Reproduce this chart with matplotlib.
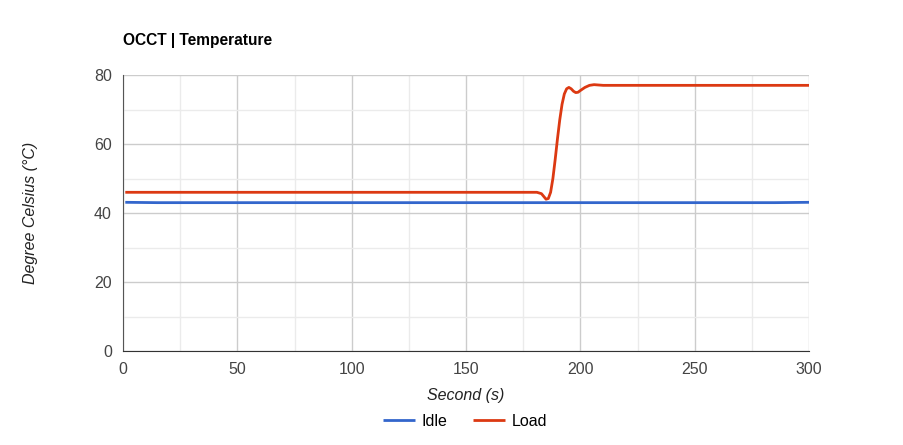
import matplotlib.pyplot as plt
from matplotlib.ticker import MultipleLocator

plt.rcParams['font.family'] = ['Liberation Sans', 'DejaVu Sans']

# readings from the chart
idle_t = [1, 15, 100, 200, 285, 300]
idle_v = [43.1, 43.0, 43.0, 43.0, 43.0, 43.1]

load_t = [1, 100, 181, 183, 185, 186, 187, 188, 189, 190, 191, 192, 193, 194, 195,
          196, 197, 198, 199, 200, 202, 204, 206, 208, 210, 250, 300]
load_v = [46, 46, 46, 45.6, 44.0, 44.2, 46.0, 50.0, 55.5, 61.5, 67.0, 71.5, 74.5, 76.0, 76.4,
          76.0, 75.3, 74.9, 75.0, 75.5, 76.4, 77.0, 77.2, 77.1, 77.0, 77.0, 77.0]

fig = plt.figure(figsize=(9.04, 4.45), dpi=100)
ax = fig.add_axes([123/904, 94/445, 686/904, 276/445])

ax.plot(idle_t, idle_v, color='#3366cc', lw=2, label='Idle', solid_capstyle='butt')
ax.plot(load_t, load_v, color='#dc3912', lw=2, label='Load', solid_capstyle='butt')

ax.set_xlim(0, 300)
ax.set_ylim(0, 80)
ax.xaxis.set_major_locator(MultipleLocator(50))
ax.xaxis.set_minor_locator(MultipleLocator(25))
ax.yaxis.set_major_locator(MultipleLocator(20))
ax.yaxis.set_minor_locator(MultipleLocator(10))
ax.grid(which='major', color='#cccccc', lw=1)
ax.grid(which='minor', color='#ebebeb', lw=1)
ax.set_axisbelow(True)
ax.tick_params(which='both', length=0, labelsize=11.5, colors='#444444', pad=8)

for s in ['top', 'right']:
    ax.spines[s].set_visible(False)
ax.spines['bottom'].set_color('#333333')
ax.spines['left'].set_color('#555555')

ax.set_xlabel('Second (s)', style='italic', fontsize=11.5, color='#222222', labelpad=8)
ax.set_ylabel('Degree Celsius (°C)', style='italic', fontsize=11.5, color='#222222', labelpad=40)
fig.text(123/904, 1 - 41/445, 'OCCT | Temperature', fontsize=11.2, fontweight='bold', va='center')

fig.legend(loc='center', bbox_to_anchor=(465/904, 1 - 421/445), ncol=2, frameon=False,
           fontsize=11.5, handlelength=2.0, columnspacing=1.6, handletextpad=0.4)

fig.savefig('out.png', dpi=100)
